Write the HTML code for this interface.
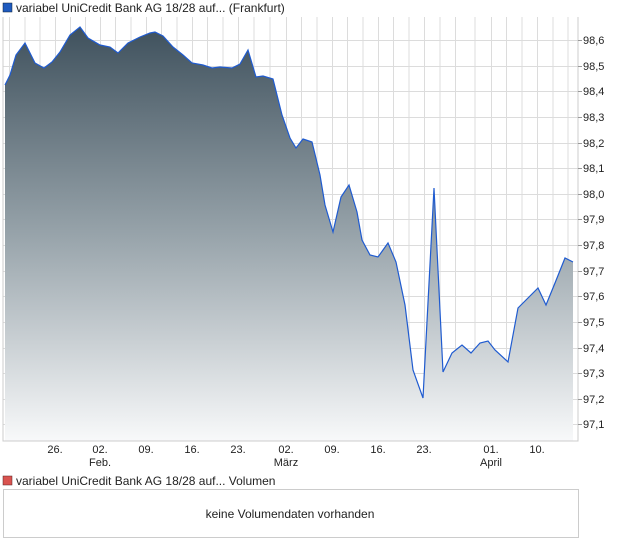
<!DOCTYPE html>
<html><head><meta charset="utf-8"><style>
body{margin:0;background:#fff;font-family:"Liberation Sans",sans-serif;}
</style></head><body>
<svg width="620" height="546" xmlns="http://www.w3.org/2000/svg" font-family="Liberation Sans, sans-serif">
<defs><linearGradient id="g" x1="0" y1="0" x2="0" y2="1">
<stop offset="0" stop-color="#3f515d"/><stop offset="0.5" stop-color="#97a3aa"/><stop offset="1" stop-color="#f8f9fa"/></linearGradient></defs>
<rect x="3" y="3" width="9" height="9" fill="#1f5bbf" stroke="#123" stroke-width="0.5"/>
<text x="16" y="12" font-size="12" fill="#222">variabel UniCredit Bank AG 18/28 auf... (Frankfurt)</text>
<g stroke="#dcdcdc" stroke-width="1">
<path d="M9.5 17V441M25 17V441M40 17V441M55.5 17V441M70.5 17V441M85.5 17V441M100.5 17V441M115.5 17V441M131 17V441M146.5 17V441M161.5 17V441M177 17V441M192.5 17V441M207.5 17V441M223 17V441M238.5 17V441M254 17V441M270 17V441M286.5 17V441M301.5 17V441M317 17V441M332.5 17V441M347.5 17V441M363 17V441M378.5 17V441M393.5 17V441M409 17V441M424.5 17V441M440 17V441M455.5 17V441M475 17V441M491.5 17V441M506.5 17V441M522 17V441M537.5 17V441M553 17V441M568 17V441"/>
<path d="M3 40.5H578M3 66.5H578M3 91.5H578M3 117.5H578M3 143.5H578M3 168.5H578M3 194.5H578M3 219.5H578M3 245.5H578M3 271.5H578M3 296.5H578M3 322.5H578M3 348.5H578M3 373.5H578M3 399.5H578M3 424.5H578"/>
</g>
<path d="M5 441L5,85 10,75 16,55 25,43 35,63 44,68 52,62 60,52 70,35 80,27 88,38 100,45 110,47 118,53 128,43 140,37 150,33 155,32 163,36 173,47 183,55 192,63 203,65 212,68 220,67 232,68 240,64 248,50 256,77 263,76 273,79 282,115 290,138 296,148 303,139 312,142 320,175 325,205 333,232 341,197 349,185 357,212 362,240 370,255 378,257 388,243 396,262 405,305 413,370 423,398 434,188 443,372 452,353 462,345 471,353 480,343 488,341 495,350 508,362 518,308 528,298 538,288 546,305 555,283 565,258 573,262 L573 441Z" fill="url(#g)"/>
<polyline fill="none" stroke="#1f5bd0" stroke-width="1.2" points="5,85 10,75 16,55 25,43 35,63 44,68 52,62 60,52 70,35 80,27 88,38 100,45 110,47 118,53 128,43 140,37 150,33 155,32 163,36 173,47 183,55 192,63 203,65 212,68 220,67 232,68 240,64 248,50 256,77 263,76 273,79 282,115 290,138 296,148 303,139 312,142 320,175 325,205 333,232 341,197 349,185 357,212 362,240 370,255 378,257 388,243 396,262 405,305 413,370 423,398 434,188 443,372 452,353 462,345 471,353 480,343 488,341 495,350 508,362 518,308 528,298 538,288 546,305 555,283 565,258 573,262"/>
<path d="M3 17V441H578V17" fill="none" stroke="#ccc"/>
<g font-size="11" fill="#222">
<text x="583" y="44">98,6</text><text x="583" y="70">98,5</text><text x="583" y="95">98,4</text><text x="583" y="121">98,3</text><text x="583" y="147">98,2</text><text x="583" y="172">98,1</text><text x="583" y="198">98,0</text><text x="583" y="223">97,9</text><text x="583" y="249">97,8</text><text x="583" y="275">97,7</text><text x="583" y="300">97,6</text><text x="583" y="326">97,5</text><text x="583" y="352">97,4</text><text x="583" y="377">97,3</text><text x="583" y="403">97,2</text><text x="583" y="428">97,1</text>
</g>
<g stroke="#999"><path d="M578 40.5h4M578 66.5h4M578 91.5h4M578 117.5h4M578 143.5h4M578 168.5h4M578 194.5h4M578 219.5h4M578 245.5h4M578 271.5h4M578 296.5h4M578 322.5h4M578 348.5h4M578 373.5h4M578 399.5h4M578 424.5h4"/></g>
<g font-size="11" fill="#222" text-anchor="middle">
<text x="55" y="453">26.</text><text x="100" y="453">02.</text><text x="100" y="466">Feb.</text><text x="146" y="453">09.</text><text x="192" y="453">16.</text><text x="238" y="453">23.</text><text x="286" y="453">02.</text><text x="286" y="466">März</text><text x="332" y="453">09.</text><text x="378" y="453">16.</text><text x="424" y="453">23.</text><text x="491" y="453">01.</text><text x="491" y="466">April</text><text x="537" y="453">10.</text>
</g>
<rect x="3" y="476" width="9" height="9" fill="#d9534f" stroke="#522" stroke-width="0.5"/>
<text x="16" y="485" font-size="12" fill="#222">variabel UniCredit Bank AG 18/28 auf... Volumen</text>
<rect x="3.5" y="489.5" width="575" height="48" fill="#fff" stroke="#ccc"/>
<text x="290" y="518" font-size="12" fill="#222" text-anchor="middle">keine Volumendaten vorhanden</text>
</svg>
</body></html>
